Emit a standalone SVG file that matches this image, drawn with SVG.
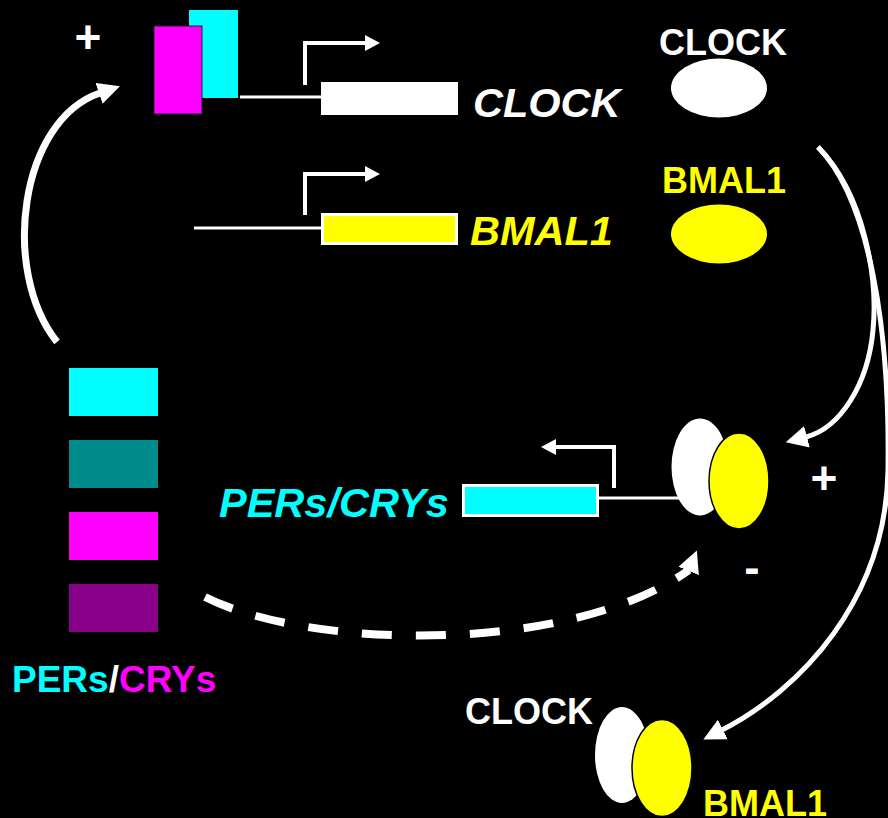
<svg xmlns="http://www.w3.org/2000/svg" width="888" height="818" viewBox="0 0 888 818">
<style>
.lbl{font-family:"Liberation Sans",Arial,sans-serif;font-weight:bold}
.it{font-style:italic;font-size:41.5px}
.up{font-size:36px}
.sign{font-size:46px;fill:#fff;text-anchor:middle}
.wire{fill:none;stroke:#fff;stroke-width:3}
.prom{fill:none;stroke:#fff;stroke-width:4}
.curve{fill:none;stroke:#fff}
</style>
<defs>
<marker id="ah" markerUnits="userSpaceOnUse" viewBox="0 0 22 22" markerWidth="22" markerHeight="22" refX="1" refY="11" orient="auto">
<path d="M0,0 L22,11 L0,22 Z" fill="#fff"/>
</marker>
<marker id="ahd" markerUnits="userSpaceOnUse" viewBox="0 0 22 22" markerWidth="22" markerHeight="22" refX="1" refY="11" orient="-68">
<path d="M0,0 L22,11 L0,22 Z" fill="#fff"/>
</marker>
<marker id="ap" markerUnits="userSpaceOnUse" viewBox="0 0 16 16" markerWidth="16" markerHeight="16" refX="1" refY="8" orient="auto">
<path d="M0,0 L15,8 L0,16 Z" fill="#fff"/>
</marker>
</defs>
<rect width="888" height="818" fill="#000"/>

<g id="connectors">
<path class="wire" d="M240,97 H321"/>
<path class="wire" d="M194,228 H321"/>
<path class="wire" d="M599,498 H680"/>
<path class="prom" d="M305,85 V43 H366" marker-end="url(#ap)"/>
<path class="prom" d="M305,215 V174 H366" marker-end="url(#ap)"/>
<path class="prom" d="M614,488 V447 H555" marker-end="url(#ap)"/>
<path class="curve" stroke-width="7" d="M57,342 C0,270 20,120 100,93" marker-end="url(#ah)"/>
<path class="curve" stroke-width="5" d="M818,147 C865,195 878,280 873,330 C868,385 840,428 806,437" marker-end="url(#ah)"/>
<path class="curve" stroke-width="5" d="M818,147 C870,200 890,330 888,470 C886,600 800,690 722,730" marker-end="url(#ah)"/>
<path class="curve" stroke-width="8" stroke-dasharray="30 24" d="M205,597 C310,650 570,655 689,570" marker-end="url(#ahd)"/>
</g>

<g id="enhancer-complex">
<rect x="189" y="10" width="49" height="88" fill="#00ffff"/>
<rect x="154" y="26" width="48" height="88" fill="#ff00ff" stroke="#222" stroke-width="1"/>
</g>

<g id="clock-gene">
<rect x="321" y="82" width="137" height="33" fill="#fff"/>
<text class="lbl it" x="473" y="117" fill="#fff">CLOCK</text>
</g>

<g id="bmal1-gene">
<rect x="322.5" y="214.5" width="134" height="29" fill="#ffff00" stroke="#fff" stroke-width="3"/>
<text class="lbl it" x="470" y="245" fill="#ffff00">BMAL1</text>
</g>

<g id="clock-protein">
<text class="lbl up" x="659" y="55" fill="#fff">CLOCK</text>
<ellipse cx="719" cy="88" rx="48" ry="29.5" fill="#fff"/>
</g>

<g id="bmal1-protein">
<text class="lbl up" x="662" y="193" fill="#ffff00">BMAL1</text>
<ellipse cx="719" cy="234" rx="48" ry="29.5" fill="#ffff00"/>
</g>

<g id="pers-crys-gene">
<rect x="463.5" y="485.5" width="134" height="30" fill="#00ffff" stroke="#fff" stroke-width="3"/>
<text class="lbl it" x="219" y="517" fill="#00ffff">PERs/CRYs</text>
</g>

<g id="promoter-complex">
<ellipse cx="700" cy="467" rx="28.5" ry="48.5" fill="#fff"/>
<ellipse cx="739" cy="481" rx="30" ry="48" fill="#ffff00" stroke="#000" stroke-width="1.5"/>
</g>

<g id="free-complex">
<ellipse cx="622" cy="755" rx="27" ry="48" fill="#fff"/>
<ellipse cx="662" cy="768" rx="30" ry="48.5" fill="#ffff00" stroke="#000" stroke-width="1.5"/>
<text class="lbl up" x="465" y="724" fill="#fff">CLOCK</text>
<text class="lbl up" x="703" y="816" fill="#ffff00">BMAL1</text>
</g>

<g id="pers-crys-proteins">
<rect x="69" y="368" width="89" height="48" fill="#00ffff"/>
<rect x="69" y="440" width="89" height="48" fill="#008b8b"/>
<rect x="69" y="512" width="89" height="48" fill="#ff00ff"/>
<rect x="69" y="584" width="89" height="48" fill="#880088"/>
<text class="lbl" font-size="37" x="12" y="692"><tspan fill="#00ffff">PERs</tspan><tspan fill="#fff">/</tspan><tspan fill="#ff00ff">CRYs</tspan></text>
</g>

<g id="signs">
<text class="lbl sign" x="88" y="53">+</text>
<text class="lbl sign" x="824" y="494">+</text>
<text class="lbl sign" x="752" y="583">-</text>
</g>
</svg>
